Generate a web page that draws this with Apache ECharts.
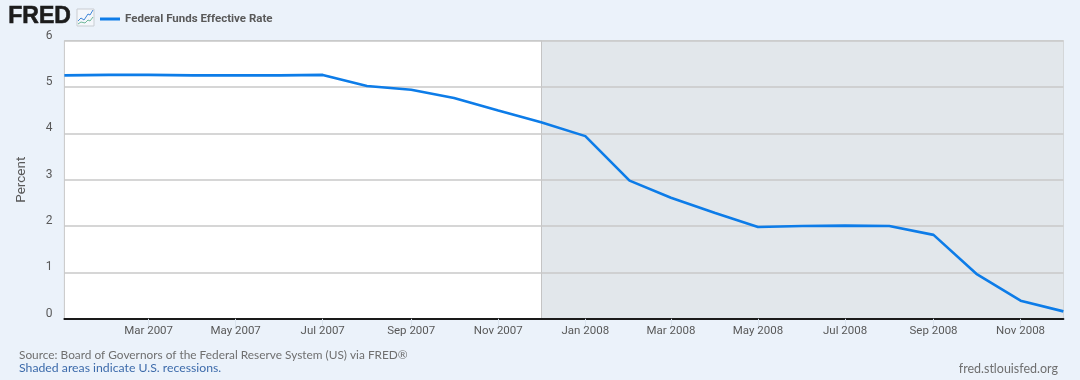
<!DOCTYPE html>
<html>
<head>
<meta charset="utf-8">
<style>html,body{margin:0;padding:0;background:#ebf2fa}#c{width:1080px;height:380px}</style>
<script src="https://cdn.jsdelivr.net/npm/echarts@6/dist/echarts.min.js"></script>
</head>
<body>
<div id="c"></div>
<script>
const months = ["2007-01-01","2007-02-01","2007-03-01","2007-04-01","2007-05-01","2007-06-01","2007-07-01","2007-08-01","2007-09-01","2007-10-01","2007-11-01","2007-12-01","2008-01-01","2008-02-01","2008-03-01","2008-04-01","2008-05-01","2008-06-01","2008-07-01","2008-08-01","2008-09-01","2008-10-01","2008-11-01","2008-12-01"];
const rates = [5.25,5.26,5.26,5.25,5.25,5.25,5.26,5.02,4.94,4.76,4.49,4.24,3.94,2.98,2.61,2.28,1.98,2.00,2.01,2.00,1.81,0.97,0.39,0.16];
const tickDates = ["2007-03-01","2007-05-01","2007-07-01","2007-09-01","2007-11-01","2008-01-01","2008-03-01","2008-05-01","2008-07-01","2008-09-01","2008-11-01"];
const monthNames = ["Jan","Feb","Mar","Apr","May","Jun","Jul","Aug","Sep","Oct","Nov","Dec"];
const recession = ["2007-12-01","2008-12-01"];
const seriesName = "Federal Funds Effective Rate";
const ms = s => Date.parse(s + "T00:00:00Z");
const chart = echarts.init(document.getElementById("c"), null, {renderer:"canvas"});
chart.setOption({
  animation:false,
  backgroundColor:"#ebf2fa",
  textStyle:{fontFamily:"Roboto"},
  grid:{left:64.4,right:16.6,top:40.6,bottom:61.2,show:true,backgroundColor:"#fff",borderColor:"#c8c8c8",borderWidth:1},
  legend:{
    left:100,top:13,padding:0,itemWidth:20,itemHeight:3,itemGap:0,icon:"rect",
    textStyle:{fontFamily:"Roboto",fontSize:11.5,fontWeight:"bold",color:"#595959"},
    data:[seriesName]
  },
  xAxis:{
    type:"value",scale:true,min:ms(months[0]),max:ms(months[months.length-1]),z:5,
    splitLine:{show:false},
    axisLine:{show:true,onZero:false,lineStyle:{color:"#1a1a1a",width:2}},
    axisTick:{show:true,length:9,customValues:tickDates.map(ms),lineStyle:{color:"#dbe4ee",width:1}},
    axisLabel:{
      customValues:tickDates.map(ms),hideOverlap:false,margin:6,
      fontFamily:"Roboto",fontSize:11.5,color:"#595959",
      formatter:v=>{const d=new Date(v);return monthNames[d.getUTCMonth()]+" "+d.getUTCFullYear();}
    }
  },
  yAxis:{
    type:"value",min:0,max:6,interval:1,z:3,
    name:"Percent",nameLocation:"middle",nameGap:36,nameRotate:90,
    nameTextStyle:{fontFamily:"Roboto",fontSize:13.5,color:"#595959",padding:[6,0,0,0]},
    axisLine:{show:false},axisTick:{show:false},
    splitLine:{show:true,lineStyle:{color:"#c8c8c8",width:1.5}},
    axisLabel:{fontFamily:"Roboto",fontSize:12,color:"#595959",margin:12,verticalAlign:"bottom",lineHeight:10}
  },
  series:[{
    name:seriesName,type:"line",z:10,symbol:"none",
    data:months.map((m,i)=>[ms(m),rates[i]]),
    itemStyle:{color:"#0d7ce8"},
    lineStyle:{color:"#0d7ce8",width:2.6},
    markArea:{silent:true,z:1,itemStyle:{color:"#e2e7eb"},data:[[{xAxis:ms(recession[0])},{xAxis:ms(recession[1])}]]},
    markLine:{silent:true,z:2,symbol:"none",label:{show:false},lineStyle:{color:"#c4c4c4",width:1,type:"solid"},data:[{xAxis:ms(recession[0])}]}
  }],
  graphic:[
    {type:"text",left:8,top:5,style:{text:"FRED",fontFamily:"Liberation Sans",fontWeight:"bold",fontSize:23,fill:"#1c1c1c",stroke:"#1c1c1c",lineWidth:0.6}},
    {type:"rect",shape:{x:77,y:9,width:17,height:17},style:{fill:"#f4f7fb",stroke:"#c9cdd2",lineWidth:1}},
    {type:"polyline",shape:{points:[[78,21],[81,18],[84,20],[88,14],[90,15],[93,10]]},style:{stroke:"#3f86d8",lineWidth:1,fill:null}},
    {type:"polyline",shape:{points:[[78,24],[81,22],[85,23],[88,20],[90,21],[93,17]]},style:{stroke:"#6fb89a",lineWidth:1,fill:null}},
    {type:"text",left:19,top:349,style:{text:"Source: Board of Governors of the Federal Reserve System (US) via FRED®",fontFamily:"Lato",fontSize:11.85,fill:"#6f6f6f"}},
    {type:"text",left:19,top:362,style:{text:"Shaded areas indicate U.S. recessions.",fontFamily:"Lato",fontSize:12.25,fill:"#3d6bab"}},
    {type:"text",right:22,top:362,style:{text:"fred.stlouisfed.org",fontFamily:"Lato",fontSize:12.5,fill:"#6f6f6f"}}
  ]
});
</script>
</body>
</html>
